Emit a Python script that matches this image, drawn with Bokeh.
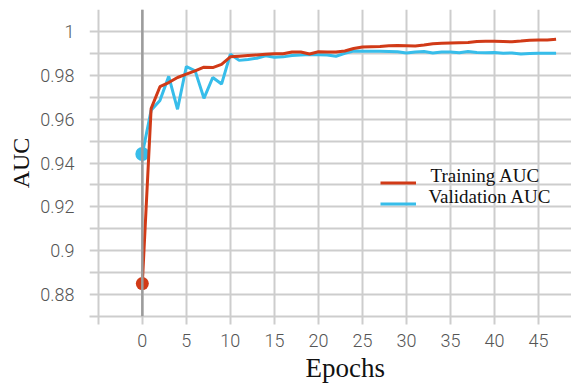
from bokeh.plotting import figure
from bokeh.models import FixedTicker, Span, Legend, LegendItem, Title, Label
from bokeh.embed import file_html
from bokeh.resources import INLINE

# Epoch-wise AUC for training and validation
epochs = list(range(48))
train_auc = [0.8850, 0.9648, 0.9748, 0.9767, 0.9790, 0.9805, 0.9820, 0.9837, 0.9835, 0.9850,
             0.9884, 0.9887, 0.9890, 0.9893, 0.9896, 0.9898, 0.9898, 0.9906, 0.9906, 0.9897,
             0.9907, 0.9906, 0.9906, 0.9911, 0.9922, 0.9929, 0.9930, 0.9931, 0.9935, 0.9936,
             0.9935, 0.9934, 0.9938, 0.9944, 0.9946, 0.9947, 0.9948, 0.9949, 0.9954, 0.9955,
             0.9955, 0.9954, 0.9953, 0.9956, 0.9960, 0.9961, 0.9961, 0.9964]
val_auc = [0.9441, 0.9640, 0.9685, 0.9795, 0.9645, 0.9840, 0.9820, 0.9695, 0.9790, 0.9760,
           0.9896, 0.9868, 0.9872, 0.9878, 0.9889, 0.9882, 0.9884, 0.9890, 0.9893, 0.9895,
           0.9894, 0.9893, 0.9887, 0.9900, 0.9911, 0.9910, 0.9910, 0.9910, 0.9909, 0.9907,
           0.9902, 0.9906, 0.9908, 0.9902, 0.9906, 0.9906, 0.9903, 0.9908, 0.9904, 0.9903,
           0.9904, 0.9900, 0.9902, 0.9897, 0.9899, 0.9901, 0.9901, 0.9901]
series_names = ["Training AUC", "Validation AUC"]

x_ticks = [-5, 0, 5, 10, 15, 20, 25, 30, 35, 40, 45]
y_major = [0.88, 0.90, 0.92, 0.94, 0.96, 0.98, 1.00]
y_minor = [0.87, 0.89, 0.91, 0.93, 0.95, 0.97, 0.99, 1.01]
y_labels = {0.88: "0.88", 0.90: "0.9", 0.92: "0.92", 0.94: "0.94",
            0.96: "0.96", 0.98: "0.98", 1.00: "1"}

RED = "#d13a17"
BLUE = "#37bdea"
GRID = "#cdcdcd"
TICK_FONT = "Roboto Light"
SERIF = "Liberation Serif"

p = figure(width=571, height=390, x_range=(-6, 48.75), y_range=(0.87, 1.01),
           output_backend="svg", toolbar_location=None,
           min_border_left=89, min_border_right=0, min_border_top=9, min_border_bottom=74)
p.outline_line_color = None
p.background_fill_color = "white"

# x axis
p.xaxis.ticker = FixedTicker(ticks=x_ticks)
p.xaxis.major_label_overrides = {-5: ""}
p.xaxis.axis_line_color = GRID
p.xaxis.axis_line_width = 2
p.xaxis.major_tick_line_color = GRID
p.xaxis.major_tick_line_width = 2
p.xaxis.major_tick_out = 8
p.xaxis.major_tick_in = 0
p.xaxis.minor_tick_line_color = None
p.xaxis.major_label_text_font = TICK_FONT
p.xaxis.major_label_text_font_size = "18px"
p.xaxis.major_label_text_color = "#555555"
p.xaxis.major_label_standoff = 9

# y axis
p.yaxis.ticker = FixedTicker(ticks=y_major, minor_ticks=y_minor)
p.yaxis.major_label_overrides = y_labels
p.yaxis.axis_line_color = None
p.yaxis.major_tick_line_color = None
p.yaxis.minor_tick_line_color = None
p.yaxis.major_label_text_font = TICK_FONT
p.yaxis.major_label_text_font_size = "18px"
p.yaxis.major_label_text_color = "#555555"
p.yaxis.major_label_standoff = 9
p.yaxis.axis_label = "AUC"
p.yaxis.axis_label_text_font = SERIF
p.yaxis.axis_label_text_font_size = "24px"
p.yaxis.axis_label_text_font_style = "normal"
p.yaxis.axis_label_text_color = "#111111"
p.yaxis.axis_label_standoff = 3

# grid
p.xgrid.grid_line_color = GRID
p.xgrid.grid_line_width = 2
p.ygrid.grid_line_color = GRID
p.ygrid.grid_line_width = 2
p.ygrid.minor_grid_line_color = GRID
p.ygrid.minor_grid_line_width = 2

# zero line
p.add_layout(Span(location=0, dimension="height", line_color="#9c9c9c", line_width=2.5))

# series
r_val = p.line(epochs, val_auc, line_color=BLUE, line_width=3)
p.scatter([epochs[0]], [val_auc[0]], size=14, fill_color=BLUE, line_color=None)
r_train = p.line(epochs, train_auc, line_color=RED, line_width=3)
p.scatter([epochs[0]], [train_auc[0]], size=13, fill_color=RED, line_color=None)

# legend: swatches from the legend, names set on their baselines next to them
legend = Legend(items=[LegendItem(label="", renderers=[r_train]),
                       LegendItem(label="", renderers=[r_val])],
                location=(291, 102), padding=0, margin=0, spacing=0,
                glyph_width=36, glyph_height=21, label_standoff=0,
                label_height=21, label_width=0,
                border_line_color=None, background_fill_alpha=0)
p.add_layout(legend, "center")
for i, name in enumerate(series_names):
    p.add_layout(Label(x=341 - 2 * i, y=141 - 21 * i, x_units="screen", y_units="screen",
                       text=name, text_font=SERIF, text_font_size="19px",
                       text_baseline="alphabetic", text_align="left",
                       text_color="#111111"))

# x axis title
p.add_layout(Title(text="Epochs", align="left", offset=216, standoff=3,
                   text_font=SERIF, text_font_size="27px", text_font_style="normal",
                   text_color="#111111"), "below")

open("out.html", "w").write(file_html(p, INLINE))
